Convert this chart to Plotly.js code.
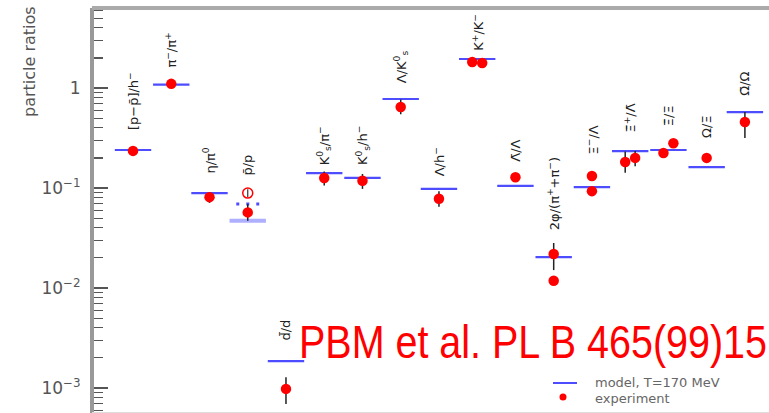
<!DOCTYPE html>
<html><head><meta charset="utf-8">
<script src="https://cdn.plot.ly/plotly-3.0.1.min.js"></script>
<style>html,body{margin:0;padding:0;background:#fff}</style>
</head><body><div id="chart" style="width:769px;height:413px"></div>
<script>
// ---- data ----
const ratioLabels = [
  '[p−p̄]/h<sup>−</sup>', 'π<sup>−</sup>/π<sup>+</sup>', 'η/π<sup>0</sup>', 'p̄/p', 'd̄/d',
  'K<sup>0</sup><sub>s</sub>/π<sup>−</sup>', 'K<sup>0</sup><sub>s</sub>/h<sup>−</sup>', 'Λ/K<sup>0</sup><sub>s</sub>',
  'Λ/h<sup>−</sup>', 'K<sup>+</sup>/K<sup>−</sup>', 'Λ̄/Λ', '2φ/(π<sup>+</sup>+π<sup>−</sup>)',
  'Ξ<sup>−</sup>/Λ', 'Ξ̄<sup>+</sup>/Λ̄', 'Ξ̄/Ξ', 'Ω/Ξ', 'Ω̄/Ω'
];
const modelValues = [0.24, 1.08, 0.089, 0.047, 0.00186, 0.141, 0.126, 0.776, 0.098, 1.95, 0.105, 0.0204, 0.102, 0.234, 0.24, 0.162, 0.575];
const expValues   = [0.235, 1.10, 0.081, 0.057, 0.00098, 0.126, 0.118, 0.646, 0.078, 1.82, 0.128, 0.0219, 0.132, 0.182, 0.224, 0.20, 0.457];
const expErrPlus  = [0.01, 0, 0.01, 0.012, 0.0003, 0.02, 0.02, 0.12, 0.015, 0.05, 0, 0.0063, 0.006, 0.05, 0.02, 0.02, 0.12];
const expErrMinus = [0.01, 0, 0.01, 0.010, 0.00029, 0.02, 0.02, 0.10, 0.013, 0.05, 0, 0.0068, 0.006, 0.04, 0.02, 0.02, 0.14];
const exp2Values  = [null, null, null, null, null, null, null, null, null, 1.78, null, 0.0118, 0.093, 0.20, 0.28, null, null];
const exp2Err     = [0, 0, 0, 0, 0, 0, 0, 0, 0, 0.05, 0, 0, 0.008, 0.035, 0.02, 0, 0];
const openValues  = [null, null, null, 0.089, null, null, null, null, null, null, null, null, null, null, null, null, null];
const openErr     = [0, 0, 0, 0.008, 0, 0, 0, 0, 0, 0, 0, 0, 0, 0, 0, 0, 0];
const altModelValues = [null, null, null, 0.069, null, null, null, null, null, null, null, null, null, null, null, null, null];
const yTickVals = [0.001, 0.01, 0.1, 1];
const yTickText = ['10<sup>−3</sup>', '10<sup>−2</sup>', '10<sup>−1</sup>', '1'];
const legendModel = 'model, T=170 MeV';
const legendExp = 'experiment';
const refText = 'PBM et al. PL B 465(99)15';
const yTitle = 'particle ratios';

// ---- style / layout helpers ----
const splitPair = [false,false,false,false,false,false,false,false,false,true,false,false,false,true,true,false,false];
const labelGap = [17, 14, 16, 12, 19, 4, 7, 14, 11, 6, 14, 11, 18, 16, 12, 14, 14];
const L = 94, T = 8, PW = 675, PH = 405;
const xp = px => (px - L) / PW;
const yp = py => 1 - (py - T) / PH;
const BLUE = '#4d4dff', RED = '#ff0000';

const idx = ratioLabels.map((_, i) => i);
const xA = idx.map(i => splitPair[i] ? i - 0.13 : i);
const xB = idx.map(i => splitPair[i] ? i + 0.13 : i);

const traces = [];
traces.push({
  x: idx, y: modelValues, mode: 'markers', type: 'scatter', hoverinfo: 'skip',
  marker: { symbol: 'line-ew', size: 26,
    line: { color: idx.map(i => i === 3 ? 'rgba(77,77,255,0.45)' : BLUE), width: idx.map(i => i === 3 ? 4 : 2.2) } }
});
const ax = [], ay = [];
idx.forEach(i => { if (altModelValues[i] != null) { ax.push(i - 0.3, i + 0.3, null); ay.push(altModelValues[i], altModelValues[i], null); } });
traces.push({ x: ax, y: ay, mode: 'lines', line: { color: BLUE, width: 3, dash: '3px,7px' }, hoverinfo: 'skip' });
traces.push({
  x: idx, y: openValues, mode: 'markers', hoverinfo: 'skip',
  marker: { symbol: 'circle-open', size: 10, color: RED, line: { width: 1.5, color: RED } },
  error_y: { type: 'data', array: openErr, color: '#333', thickness: 1.2, width: 0 }
});
traces.push({
  x: xA, y: expValues, mode: 'markers', hoverinfo: 'skip',
  marker: { symbol: 'circle', size: 10.5, color: RED },
  error_y: { type: 'data', array: expErrPlus, arrayminus: expErrMinus, color: '#222', thickness: 1.5, width: 0 }
});
traces.push({
  x: xB, y: exp2Values, mode: 'markers', hoverinfo: 'skip',
  marker: { symbol: 'circle', size: 10.5, color: RED },
  error_y: { type: 'data', array: exp2Err, color: '#222', thickness: 1.5, width: 0 }
});

const annotations = idx.map(i => {
  const top = Math.max(modelValues[i], expValues[i] + expErrPlus[i],
    exp2Values[i] != null ? exp2Values[i] + exp2Err[i] : 0,
    openValues[i] != null ? openValues[i] + openErr[i] : 0);
  return { x: i, y: Math.log10(top), xref: 'x', yref: 'y', text: ratioLabels[i], textangle: -90,
    showarrow: false, xanchor: 'center', yanchor: 'bottom', yshift: labelGap[i],
    font: { family: 'DejaVu Sans', size: 13, color: '#222' } };
});
annotations.push({ x: 0, xref: 'paper', xshift: -64, y: yp(62), yref: 'paper', text: yTitle, textangle: -90,
  showarrow: false, xanchor: 'center', yanchor: 'middle', font: { family: 'DejaVu Sans', size: 16, color: '#555' } });
annotations.push({ x: xp(298), xref: 'paper', y: yp(342), yref: 'paper', text: refText, showarrow: false,
  xanchor: 'left', yanchor: 'middle', align: 'left', borderpad: 0, width: 469,
  font: { family: 'Liberation Sans, Arial, sans-serif', size: 46, color: RED } });
annotations.push({ x: xp(594), xref: 'paper', y: yp(382.5), yref: 'paper', text: legendModel, showarrow: false,
  xanchor: 'left', yanchor: 'middle', borderpad: 0, font: { family: 'DejaVu Sans', size: 13, color: '#666' } });
annotations.push({ x: xp(594), xref: 'paper', y: yp(398), yref: 'paper', text: legendExp, showarrow: false,
  xanchor: 'left', yanchor: 'middle', borderpad: 0, font: { family: 'DejaVu Sans', size: 13, color: '#666' } });

const shapes = [
  { type: 'line', xref: 'paper', yref: 'paper', x0: xp(92), x1: 1, y0: 1, y1: 1, line: { color: '#aaa', width: 4 } },
  { type: 'line', xref: 'paper', yref: 'paper', x0: xp(92), x1: 1, y0: yp(412.5), y1: yp(412.5), line: { color: '#ddd', width: 1 } },
  { type: 'line', xref: 'paper', yref: 'paper', x0: xp(553), x1: xp(577), y0: yp(383), y1: yp(383), line: { color: BLUE, width: 2 } },
  { type: 'circle', xref: 'paper', yref: 'paper', x0: xp(559.5), x1: xp(566.5), y0: yp(393.5), y1: yp(400.5), fillcolor: RED, line: { width: 0 } }
];

const layout = {
  width: 769, height: 413, margin: { l: L, r: 0, t: T, b: 0 },
  paper_bgcolor: '#fff', plot_bgcolor: '#fff', showlegend: false,
  xaxis: { range: [-1.02, 16.63], showgrid: false, zeroline: false, showline: false, showticklabels: false, ticks: '' },
  yaxis: { type: 'log', range: [-3.25, 0.8], showgrid: false, zeroline: false,
    showline: true, linecolor: '#999', linewidth: 4,
    tickmode: 'array', tickvals: yTickVals, ticktext: yTickText,
    ticks: 'inside', ticklen: 14, tickwidth: 1.5, tickcolor: '#555', ticklabelstandoff: 6,
    tickfont: { family: 'DejaVu Sans', size: 17, color: '#555' },
    minor: { ticks: 'inside', ticklen: 9, tickwidth: 1.2, tickcolor: '#555', dtick: 'D1', showgrid: false } },
  annotations, shapes
};
Plotly.newPlot('chart', traces, layout, { staticPlot: true, displayModeBar: false }).then(() => {
  // condense the red reference text to the narrow width of the original
  document.querySelectorAll('text.annotation-text').forEach(t => {
    if (t.textContent === refText) {
      t.setAttribute('textLength', '468');
      t.setAttribute('lengthAdjust', 'spacingAndGlyphs');
    }
  });
});
</script></body></html>
